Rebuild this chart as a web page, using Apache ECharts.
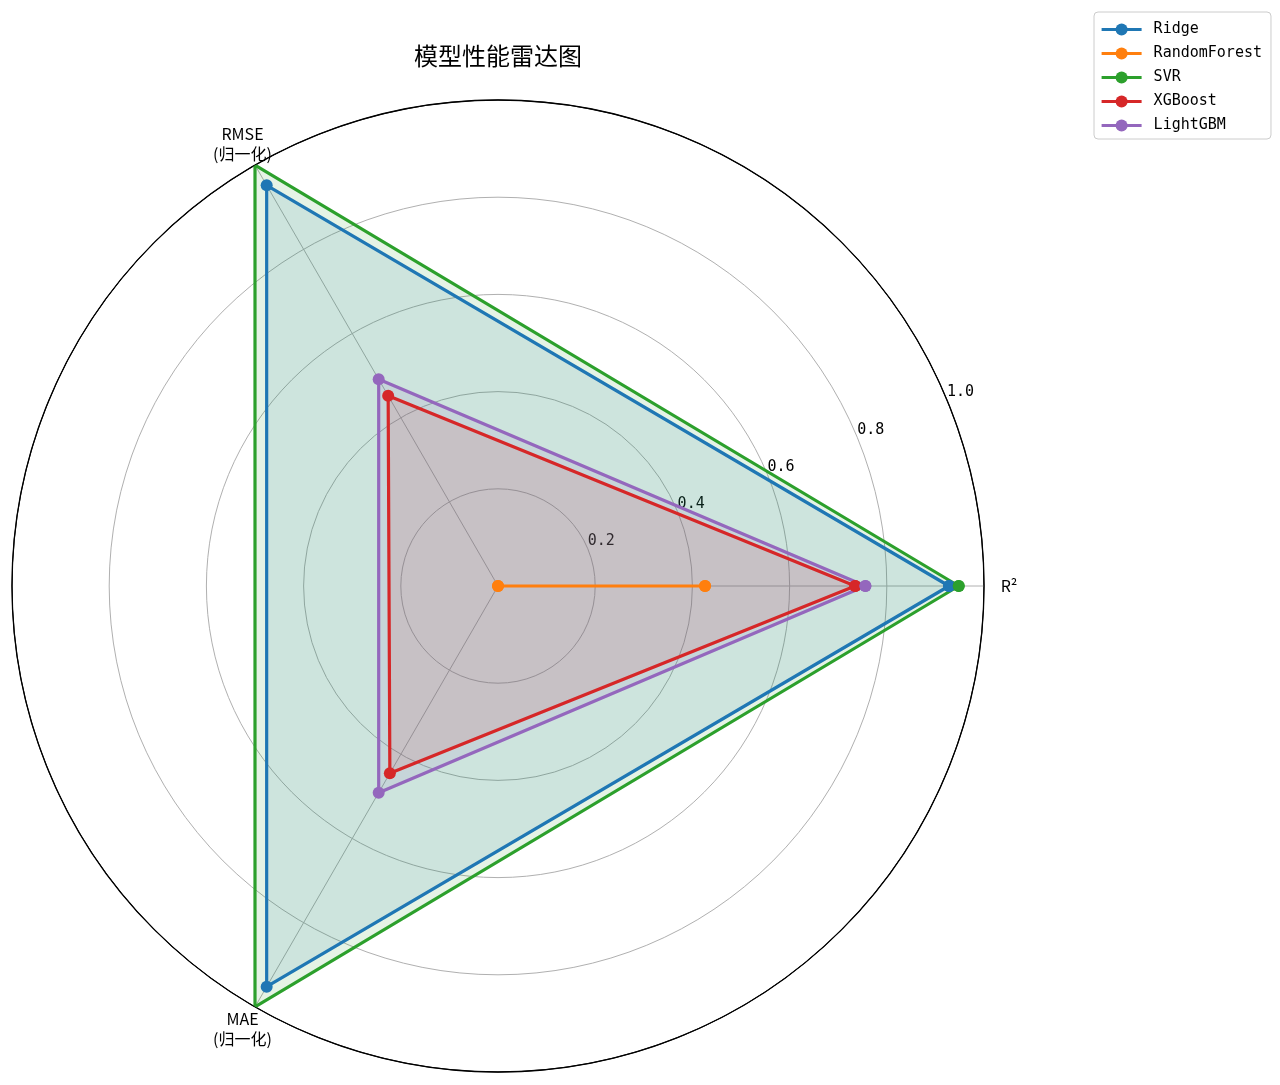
<!DOCTYPE html>
<html><head><meta charset="utf-8">
<script src="https://cdn.jsdelivr.net/npm/echarts@6/dist/echarts.min.js"></script>
<style>html,body{margin:0;padding:0;background:#fff}#c{width:1280px;height:1085px}</style>
</head><body><div id="c"></div>
<script>
// ---- data ----
const metrics = ['R²', 'RMSE\n(归一化)', 'MAE\n(归一化)'];
const metricAngles = [0, 120, 240];
const models = ['Ridge', 'RandomForest', 'SVR', 'XGBoost', 'LightGBM'];
const ridge = [0.928, 0.952, 0.952];
const randomForest = [0.426, 0, 0];
const svr = [0.948, 1.0, 1.0];
const xgboost = [0.735, 0.452, 0.445];
const lightgbm = [0.756, 0.491, 0.491];
const radiusTicks = [0, 0.2, 0.4, 0.6, 0.8, 1.0];
const colors = ['#1f77b4', '#ff7f0e', '#2ca02c', '#d62728', '#9467bd'];

const values = [ridge, randomForest, svr, xgboost, lightgbm];
const center = [498, 586];
const R = 486;
const monoFont = 'DejaVu Sans Mono';
const cjkFont = 'Noto Sans CJK SC';

function toPolar(vals) {
  const d = vals.map((v, i) => [v, metricAngles[i]]);
  d.push([vals[0], 360]);
  return d;
}

const chart = echarts.init(document.getElementById('c'));
chart.setOption({
  animation: false,
  backgroundColor: '#fff',
  color: colors,
  title: {
    text: '模型性能雷达图', left: 498, top: 44, textAlign: 'center', padding: 0,
    textStyle: { fontFamily: cjkFont, fontSize: 24, fontWeight: 'normal', color: '#000', lineHeight: 24 }
  },
  legend: {
    orient: 'vertical', left: 1094, top: 12, padding: [10, 9, 6, 6], itemGap: 9,
    itemWidth: 40, itemHeight: 15, borderColor: '#cccccc', borderWidth: 1, borderRadius: 4,
    backgroundColor: '#fff',
    lineStyle: { width: 3.2 },
    textStyle: { fontFamily: monoFont, fontSize: 15, lineHeight: 15, color: '#000', padding: [0, 0, 0, 7] },
    data: models
  },
  polar: [
    { center: center, radius: R },
    { center: center, radius: R }
  ],
  angleAxis: [
    {
      polarIndex: 0, type: 'value', min: 0, max: 360, interval: 120, startAngle: 0, clockwise: false,
      axisLine: { show: true, lineStyle: { color: '#000', width: 1.3 } },
      axisTick: { show: false }, axisLabel: { show: false },
      splitLine: { show: true, lineStyle: { color: '#b0b0b0', width: 1 } }
    },
    {
      polarIndex: 1, type: 'value', min: 0, max: 360, startAngle: 22.5, clockwise: false,
      axisLine: { show: false }, axisTick: { show: false }, axisLabel: { show: false }, splitLine: { show: false }
    }
  ],
  radiusAxis: [
    {
      polarIndex: 0, type: 'value', min: radiusTicks[0], max: radiusTicks[radiusTicks.length - 1], interval: 0.2,
      axisLine: { show: false }, axisTick: { show: false }, axisLabel: { show: false },
      splitLine: { show: true, lineStyle: { color: ['#b0b0b0', '#b0b0b0', '#b0b0b0', '#b0b0b0', '#b0b0b0', '#000'], width: 1 } }
    },
    {
      polarIndex: 1, type: 'value', min: radiusTicks[0], max: radiusTicks[radiusTicks.length - 1], interval: 0.2,
      axisLine: { show: false }, axisTick: { show: false }, splitLine: { show: false },
      axisLabel: {
        show: true, margin: 0, align: 'left', verticalAlign: 'bottom',
        fontFamily: monoFont, fontSize: 15, color: '#000',
        formatter: v => (v === 0 ? '' : v.toFixed(1))
      }
    }
  ],
  radar: {
    center: center, radius: R, startAngle: 0, shape: 'circle', silent: true,
    indicator: metrics.map(m => ({ name: m, min: 0, max: 1 })),
    axisName: { color: '#000', fontSize: 16, fontFamily: cjkFont, align: 'center', verticalAlign: 'middle', lineHeight: 20 },
    nameGap: 25,
    axisLine: { show: false }, splitLine: { show: false }, splitArea: { show: false },
    axisTick: { show: false }, axisLabel: { show: false }
  },
  series: models.map((name, i) => ({
    name: name, type: 'line', coordinateSystem: 'polar', polarIndex: 0,
    data: toPolar(values[i]),
    symbol: 'circle', symbolSize: 12, showSymbol: true,
    lineStyle: { width: 3.2, color: colors[i] },
    itemStyle: { color: colors[i] },
    areaStyle: { color: colors[i], opacity: 0.12 },
    emphasis: { disabled: true }
  }))
});
</script>
</body></html>
